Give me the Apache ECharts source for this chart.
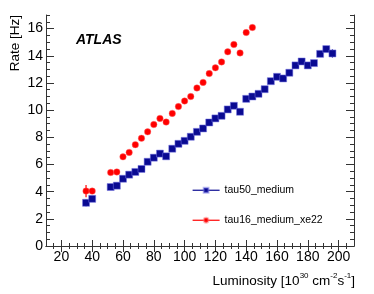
<!DOCTYPE html>
<html>
<head>
<meta charset="utf-8">
<script src="https://cdn.jsdelivr.net/npm/echarts@6/dist/echarts.min.js"></script>
<style>
html,body{margin:0;padding:0;background:#fff;}
#c{width:374px;height:294px;}
</style>
</head>
<body>
<div id="c"></div>
<script>
// ---- data ----
const lumiBlue = [36,40,52,56,60,64,68,72,76,80,84,88,92,96,100,104,108,112,116,120,124,128,132,136,140,144,148,152,156,160,164,168,172,176,180,184,188,192,196];
const rateBlue = [3.18,3.47,4.34,4.44,4.95,5.25,5.45,5.67,6.2,6.5,6.8,6.6,7.16,7.52,7.74,8.04,8.4,8.65,9.09,9.39,9.58,10.05,10.32,9.88,10.83,11.0,11.2,11.54,12.13,12.45,12.33,12.75,13.29,13.58,13.29,13.46,14.14,14.49,14.17];
const errBlue  = [0.25,0.15,0.1,0.1,0.1,0.1,0.1,0.1,0.1,0.1,0.1,0.1,0.1,0.1,0.1,0.1,0.1,0.1,0.1,0.1,0.1,0.1,0.1,0.1,0.1,0.1,0.1,0.1,0.1,0.1,0.1,0.1,0.1,0.1,0.1,0.1,0.12,0.15,0.3];
const lumiRed  = [36,40,52,56,60,64,68,72,76,80,84,88,92,96,100,104,108,112,116,120,124,128,132,136,140,144];
const rateRed  = [4.04,4.04,5.41,5.45,6.56,6.89,7.46,7.93,8.4,8.94,9.39,9.12,9.76,10.26,10.67,11.0,11.63,12.04,12.69,13.11,13.55,14.29,14.83,14.21,15.71,16.08];
const errRed   = [0.45,0.22,0.12,0.12,0.12,0.12,0.12,0.12,0.12,0.12,0.12,0.12,0.12,0.12,0.12,0.12,0.12,0.12,0.12,0.12,0.12,0.12,0.12,0.12,0.12,0.12];
const seriesNames = ['tau50_medium','tau16_medium_xe22'];
const xMajor = [20,40,60,80,100,120,140,160,180,200];
const yMajor = [0,2,4,6,8,10,12,14,16];

const xMinor = []; for (let v = 15; v <= 205; v += 5) if (v % 20 !== 0) xMinor.push(v);
const yMinor = []; for (let v = 0.5; v <= 17; v += 0.5) if (v % 2 !== 0) yMinor.push(v);

const FONT = '"Liberation Sans", Arial, Helvetica, sans-serif';
const BLUE = '#0a0a92';
const RED = '#ff0000';
const AX = '#333';

function xAx(pos, ticks, len, showLine, labels) {
  return {
    type: 'value', position: pos, min: 10, max: 210,
    axisLine: { show: showLine, lineStyle: { color: AX, width: 1 } },
    axisTick: { show: true, inside: true, length: len, customValues: ticks, lineStyle: { color: AX } },
    axisLabel: labels ? { show: true, customValues: xMajor, fontSize: 14, color: '#000', fontFamily: FONT, margin: 4 } : { show: false },
    splitLine: { show: false }
  };
}
function yAx(pos, ticks, len, showLine, labels) {
  return {
    type: 'value', position: pos, min: 0, max: 17,
    axisLine: { show: showLine, lineStyle: { color: AX, width: 1 } },
    axisTick: { show: true, inside: true, length: len, customValues: ticks, lineStyle: { color: AX } },
    axisLabel: labels ? { show: true, customValues: yMajor, fontSize: 14, color: '#000', fontFamily: FONT, margin: 3 } : { show: false },
    splitLine: { show: false }
  };
}

function errSeries(lumi, rate, err, color) {
  return {
    type: 'custom', xAxisIndex: 0, yAxisIndex: 0, silent: true, z: 1,
    data: lumi.map((x, i) => [x, rate[i], err[i]]),
    renderItem: function (params, api) {
      const x = api.value(0), y = api.value(1), e = api.value(2);
      const p1 = api.coord([x, y - e]), p2 = api.coord([x, y + e]);
      return { type: 'line', shape: { x1: p1[0], y1: p1[1], x2: p2[0], y2: p2[1] },
               style: { stroke: color, lineWidth: 1.2 } };
    }
  };
}

const chart = echarts.init(document.getElementById('c'), null, { renderer: 'canvas' });
chart.setOption({
  animation: false,
  backgroundColor: '#fff',
  grid: { left: 46, top: 15, right: 20, bottom: 48, containLabel: false },
  xAxis: [
    xAx('bottom', xMajor, 6, true, true),
    xAx('bottom', xMinor, 3, false, false),
    xAx('top', xMajor, 6, true, false),
    xAx('top', xMinor, 3, false, false)
  ],
  yAxis: [
    yAx('left', yMajor, 8, true, true),
    yAx('left', yMinor, 4, false, false),
    yAx('right', yMajor, 8, true, false),
    yAx('right', yMinor, 4, false, false)
  ],
  legend: {
    orient: 'vertical', left: 192, top: 184.75, padding: 0,
    itemWidth: 27, itemHeight: 6, itemGap: 19,
    textStyle: { fontSize: 10.5, color: '#000', fontFamily: FONT },
    lineStyle: { width: 1.2, opacity: 1 },
    data: seriesNames
  },
  series: [
    errSeries(lumiBlue, rateBlue, errBlue, BLUE),
    errSeries(lumiRed, rateRed, errRed, RED),
    {
      name: seriesNames[0], type: 'line', xAxisIndex: 0, yAxisIndex: 0, z: 3,
      data: lumiBlue.map((x, i) => [x, rateBlue[i]]),
      symbol: 'rect', symbolSize: 7,
      itemStyle: { color: BLUE, borderColor: 'rgba(120,120,230,0.5)', borderWidth: 1 },
      lineStyle: { color: BLUE, width: 1.2, opacity: 0 }
    },
    {
      name: seriesNames[1], type: 'line', xAxisIndex: 0, yAxisIndex: 0, z: 3,
      data: lumiRed.map((x, i) => [x, rateRed[i]]),
      symbol: 'circle', symbolSize: 6.5,
      itemStyle: { color: RED, borderColor: 'rgba(255,120,120,0.5)', borderWidth: 0.8 },
      lineStyle: { color: RED, width: 1.2, opacity: 0 }
    }
  ],
  graphic: [
    { type: 'text', x: 76, y: 40, style: { text: 'ATLAS', font: 'italic bold 14px ' + FONT, fill: '#000', verticalAlign: 'middle', align: 'left' } },
    { type: 'text', x: 15, y: 15, rotation: Math.PI / 2, style: { text: 'Rate [Hz]', font: '13.5px ' + FONT, fill: '#000', align: 'right', verticalAlign: 'middle' } },
    { type: 'text', right: 19, top: 272, style: {
        text: '{a|Luminosity [10}{s|30}{a| cm}{s|-2}{a|s}{s|-1}{a|]}',
        rich: {
          a: { fontSize: 13.5, fontFamily: FONT, fill: '#000', verticalAlign: 'bottom', lineHeight: 16 },
          s: { fontSize: 8, fontFamily: FONT, fill: '#000', verticalAlign: 'top', lineHeight: 16, padding: [0, 0, 6, 0] }
        }
      } }
  ]
});
</script>
</body>
</html>
